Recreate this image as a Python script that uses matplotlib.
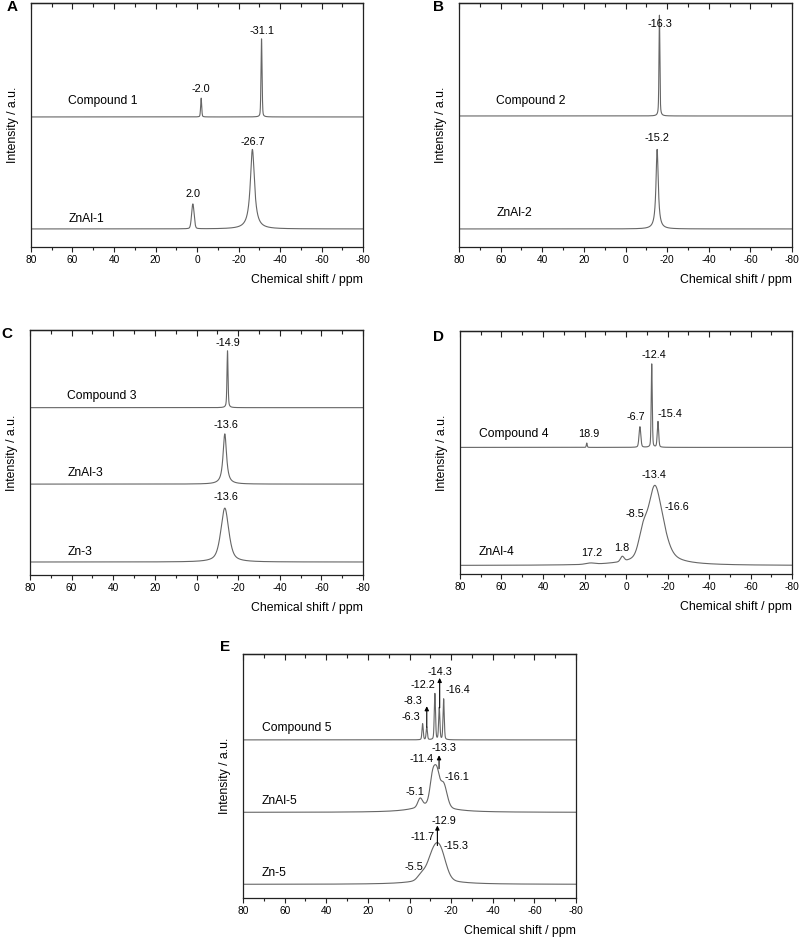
import numpy as np
import matplotlib
matplotlib.use("Agg")
import matplotlib.pyplot as plt
from matplotlib.ticker import MultipleLocator

plt.rcParams['font.family'] = ['Liberation Sans', 'DejaVu Sans']
plt.rcParams['axes.unicode_minus'] = False

W, H = 801, 938
LINE = '#666666'

# ---------------- data (peak position ppm, height, fwhm, lorentz fraction) ----------------
# Panel A
A_comp_pos = [-2.0, -31.1];  A_comp_h = [0.077, 0.32];  A_comp_w = [0.6, 0.6];  A_comp_eta = [0.3, 0.3]
A_znal_pos = [2.0, -26.7];   A_znal_h = [0.102, 0.326]; A_znal_w = [1.4, 2.4];  A_znal_eta = [0.2, 1.0]
# Panel B
B_comp_pos = [-16.3]; B_comp_h = [0.413]; B_comp_w = [0.5]; B_comp_eta = [0.5]
B_znal_pos = [-15.2]; B_znal_h = [0.326]; B_znal_w = [1.3]; B_znal_eta = [1.0]
# Panel C
C_comp_pos = [-14.9]; C_comp_h = [0.232]; C_comp_w = [0.6]; C_comp_eta = [0.5]
C_znal_pos = [-13.6]; C_znal_h = [0.205]; C_znal_w = [2.0]; C_znal_eta = [0.9]
C_zn_pos = [-13.6];   C_zn_h = [0.22];    C_zn_w = [4.5];   C_zn_eta = [0.6]
# Panel D
D_comp_pos = [18.9, -6.7, -12.4, -15.4]; D_comp_h = [0.018, 0.085, 0.343, 0.106]
D_comp_w = [0.5, 1.0, 0.6, 0.8]; D_comp_eta = [0.3, 0.3, 0.3, 0.3]
D_znal_pos = [17.2, 1.8, -8.5, -13.5, -17.2, -13.0]; D_znal_h = [0.005, 0.02, 0.11, 0.205, 0.12, 0.06]
D_znal_w = [5.0, 2.0, 5.0, 5.5, 7.0, 18.0]; D_znal_eta = [0.0, 0.0, 0.0, 0.0, 0.5, 1.0]
# Panel E
E_comp_pos = [-6.3, -8.3, -12.2, -14.3, -16.4]; E_comp_h = [0.066, 0.052, 0.189, 0.131, 0.167]
E_comp_w = [0.7, 0.7, 0.7, 0.7, 0.7]; E_comp_eta = [0.3, 0.3, 0.3, 0.3, 0.3]
E_znal_pos = [-5.1, -11.3, -13.3, -16.2, -11.0]; E_znal_h = [0.033, 0.125, 0.09, 0.095, 0.04]
E_znal_w = [2.5, 3.0, 2.5, 4.0, 16.0]; E_znal_eta = [0.0, 0.0, 0.0, 0.0, 1.0]
E_zn_pos = [-5.5, -11.7, -15.3, -12.0]; E_zn_h = [0.018, 0.1, 0.075, 0.03]
E_zn_w = [4.0, 7.0, 6.0, 18.0]; E_zn_eta = [0.0, 0.0, 0.0, 1.0]

# trace baselines (fraction of axis height)
A_base = [0.533, 0.074]
B_base = [0.537, 0.074]
C_base = [0.683, 0.371, 0.053]
D_base = [0.521, 0.035]
E_base = [0.648, 0.351, 0.056]

# sample names
A_names = ['Compound 1', 'ZnAl-1']
B_names = ['Compound 2', 'ZnAl-2']
C_names = ['Compound 3', 'ZnAl-3', 'Zn-3']
D_names = ['Compound 4', 'ZnAl-4']
E_names = ['Compound 5', 'ZnAl-5', 'Zn-5']

# peak labels: (text, x ppm, y frac)
A_labels = [('-31.1', -31.2, 0.887), ('-2.0', -1.8, 0.646), ('-26.7', -26.7, 0.432), ('2.0', 1.8, 0.217)]
B_labels = [('-16.3', -16.6, 0.913), ('-15.2', -15.0, 0.445)]
C_labels = [('-14.9', -15.3, 0.948), ('-13.6', -14.1, 0.612), ('-13.6', -14.1, 0.317)]
D_labels = [('-12.4', -13.5, 0.901), ('-6.7', -4.8, 0.645), ('-15.4', -21.2, 0.658), ('18.9', 17.7, 0.575),
            ('-13.4', -13.5, 0.409), ('-8.5', -4.3, 0.246), ('-16.6', -24.4, 0.277), ('1.8', 1.8, 0.108),
            ('17.2', 16.5, 0.085)]
E_labels = [('-14.3', -14.7, 0.927), ('-12.2', -6.5, 0.873), ('-16.4', -23.4, 0.852), ('-8.3', -1.7, 0.809),
            ('-6.3', -0.6, 0.742), ('-13.3', -16.6, 0.613), ('-11.4', -5.9, 0.568), ('-16.1', -22.7, 0.497),
            ('-5.1', -2.7, 0.436), ('-12.9', -16.6, 0.316), ('-11.7', -6.4, 0.249), ('-15.3', -22.4, 0.214),
            ('-5.5', -1.9, 0.128)]
# arrows in E: (x ppm, y tail, y head)
E_arrows = [(-8.3, 0.700, 0.786), (-14.5, 0.779, 0.902), (-14.2, 0.530, 0.585), (-13.4, 0.215, 0.297)]

x = np.linspace(80, -80, 8001)


def spectrum(pos, h, w, eta):
    y = np.zeros_like(x)
    for p, hh, ww, e in zip(pos, h, w, eta):
        g = np.exp(-4 * np.log(2) * ((x - p) / ww) ** 2)
        l = 1.0 / (1.0 + (2 * (x - p) / ww) ** 2)
        y += hh * (e * l + (1 - e) * g)
    return y


def make_ax(l, t, r, b):
    ax = fig.add_axes([l / W, 1 - b / H, (r - l) / W, (b - t) / H])
    ax.set_xlim(80, -80)
    ax.set_ylim(0, 1)
    ax.set_yticks([])
    ax.xaxis.set_major_locator(MultipleLocator(20))
    ax.xaxis.set_minor_locator(MultipleLocator(10))
    ax.tick_params(axis='x', which='both', direction='out', top=False, labelsize=7.3, pad=2.5, color='#222222')
    ax.tick_params(axis='x', which='major', length=3.5, width=0.8)
    ax.tick_params(axis='x', which='minor', length=2.5, width=0.8)
    sec = ax.secondary_xaxis('top')
    sec.xaxis.set_major_locator(MultipleLocator(20))
    sec.xaxis.set_minor_locator(MultipleLocator(10))
    sec.tick_params(axis='x', which='both', direction='in', labeltop=False, color='#222222')
    sec.tick_params(axis='x', which='major', length=4, width=0.8)
    sec.tick_params(axis='x', which='minor', length=3, width=0.8)
    sec.spines['top'].set_linewidth(0.9)
    for s in ax.spines.values():
        s.set_linewidth(0.9)
        s.set_color('#222222')
    ax.text(1.0, -33 / (b - t), 'Chemical shift / ppm', transform=ax.transAxes,
            ha='right', va='center', fontsize=8.8)
    fig.text((l - 18) / W, 1 - ((t + b) / 2) / H, 'Intensity / a.u.', rotation=90,
             ha='center', va='center', fontsize=8.8)
    return ax


def draw(ax, traces, bases, names, name_x, name_y, labels):
    for (pos, h, w, eta), b0 in zip(traces, bases):
        ax.plot(x, b0 + spectrum(pos, h, w, eta), color=LINE, lw=0.8)
    for n, ny in zip(names, name_y):
        ax.text(name_x, ny, n, ha='left', va='center', fontsize=8.7)
    for t, lx, ly in labels:
        ax.text(lx, ly, t, ha='center', va='center', fontsize=7.8)


fig = plt.figure(figsize=(W / 100, H / 100), dpi=100)

axA = make_ax(31, 3, 363, 247)
draw(axA, [(A_comp_pos, A_comp_h, A_comp_w, A_comp_eta), (A_znal_pos, A_znal_h, A_znal_w, A_znal_eta)],
     A_base, A_names, 62, [0.598, 0.115], A_labels)

axB = make_ax(459, 3, 792, 247)
draw(axB, [(B_comp_pos, B_comp_h, B_comp_w, B_comp_eta), (B_znal_pos, B_znal_h, B_znal_w, B_znal_eta)],
     B_base, B_names, 62, [0.598, 0.139], B_labels)

axC = make_ax(30, 330, 363, 575)
draw(axC, [(C_comp_pos, C_comp_h, C_comp_w, C_comp_eta), (C_znal_pos, C_znal_h, C_znal_w, C_znal_eta),
           (C_zn_pos, C_zn_h, C_zn_w, C_zn_eta)],
     C_base, C_names, 62, [0.732, 0.415, 0.095], C_labels)

axD = make_ax(460, 331, 792, 574)
draw(axD, [(D_comp_pos, D_comp_h, D_comp_w, D_comp_eta), (D_znal_pos, D_znal_h, D_znal_w, D_znal_eta)],
     D_base, D_names, 71, [0.575, 0.092], D_labels)

axE = make_ax(243, 654, 576, 898)
draw(axE, [(E_comp_pos, E_comp_h, E_comp_w, E_comp_eta), (E_znal_pos, E_znal_h, E_znal_w, E_znal_eta),
           (E_zn_pos, E_zn_h, E_zn_w, E_zn_eta)],
     E_base, E_names, 71, [0.695, 0.398, 0.101], E_labels)
for ax_, ay0, ay1 in E_arrows:
    axE.annotate('', xy=(ax_, ay1), xytext=(ax_, ay0),
                 arrowprops=dict(arrowstyle='-|>', color='black', lw=0.8, mutation_scale=6,
                                 shrinkA=0, shrinkB=0))

for letter, px, py in [('A', 12, 7), ('B', 438, 7), ('C', 7, 334), ('D', 438, 337), ('E', 225, 647)]:
    fig.text(px / W, 1 - py / H, letter, ha='center', va='center', fontsize=11, fontweight='bold')

fig.savefig('out.png', dpi=100)
